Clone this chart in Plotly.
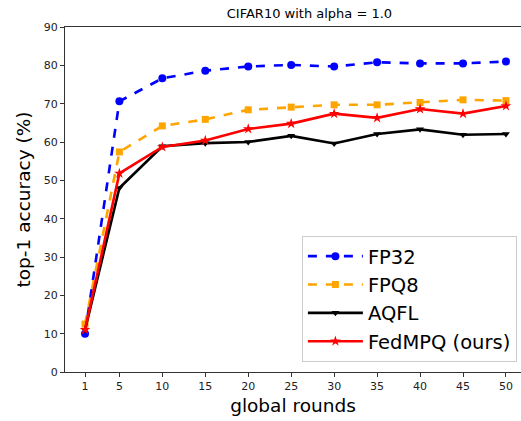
import plotly.graph_objects as go

rounds = [1, 5, 10, 15, 20, 25, 30, 35, 40, 45, 50]
fp32 = [10.0, 70.6, 76.6, 78.6, 79.7, 80.1, 79.7, 80.8, 80.5, 80.5, 81.0]
fpq8 = [12.5, 57.4, 64.2, 65.9, 68.4, 69.1, 69.7, 69.7, 70.3, 71.0, 70.8]
aqfl = [11.0, 48.0, 58.9, 59.7, 60.0, 61.6, 59.6, 62.1, 63.3, 61.9, 62.1]
fedmpq = [11.0, 51.8, 58.7, 60.4, 63.4, 64.8, 67.4, 66.3, 68.6, 67.4, 69.4]
x_ticks = [1, 5, 10, 15, 20, 25, 30, 35, 40, 45, 50]
y_ticks = [0, 10, 20, 30, 40, 50, 60, 70, 80, 90]

series = [
    ("FP32", fp32, "#0000ff", "dash", "circle", 8),
    ("FPQ8", fpq8, "#ffa500", "dash", "square", 7),
    ("AQFL", aqfl, "#000000", "solid", "triangle-down", 7),
    ("FedMPQ (ours)", fedmpq, "#ff0000", "solid", "star", 8),
]

fig = go.Figure()
for name, vals, color, dash, sym, size in series:
    fig.add_trace(go.Scatter(
        x=rounds, y=vals, name=name, mode="lines+markers",
        line=dict(color=color, width=2.6, dash=dash),
        marker=dict(color=color, symbol=sym, size=size),
    ))

axis_common = dict(
    showline=True, linecolor="#333333", linewidth=1,
    ticks="outside", ticklen=4, tickcolor="#333333", showgrid=False,
    zeroline=False, tickfont=dict(size=11, color="#222222"),
)
fig.update_xaxes(range=[-1.33, 51.75], tickvals=x_ticks, mirror=True,
                 title=dict(text="global rounds", font=dict(size=18.5, color="#000000"), standoff=6),
                 **axis_common)
fig.update_yaxes(range=[0, 90], tickvals=y_ticks, mirror=False,
                 title=dict(text="top-1 accuracy (%)", font=dict(size=18.5, color="#000000"), standoff=8),
                 **axis_common)

fig.update_layout(
    width=521, height=421,
    margin=dict(l=65, r=0, t=27, b=49),
    paper_bgcolor="white", plot_bgcolor="white",
    font=dict(family="DejaVu Sans", color="#000000"),
    title=dict(text="CIFAR10 with alpha = 1.0", x=0.594, xanchor="center",
               y=0.968, yanchor="middle", font=dict(size=13)),
    legend=dict(x=0.991, y=0.029, xanchor="right", yanchor="bottom",
                bgcolor="rgba(255,255,255,0.85)", bordercolor="#cccccc", borderwidth=1,
                font=dict(size=19.5), tracegroupgap=0, itemwidth=55),
    showlegend=True,
)

fig.write_html("out.html", config={"displayModeBar": False},
               post_script="document.body.style.margin='0';document.body.style.overflow='hidden';")
